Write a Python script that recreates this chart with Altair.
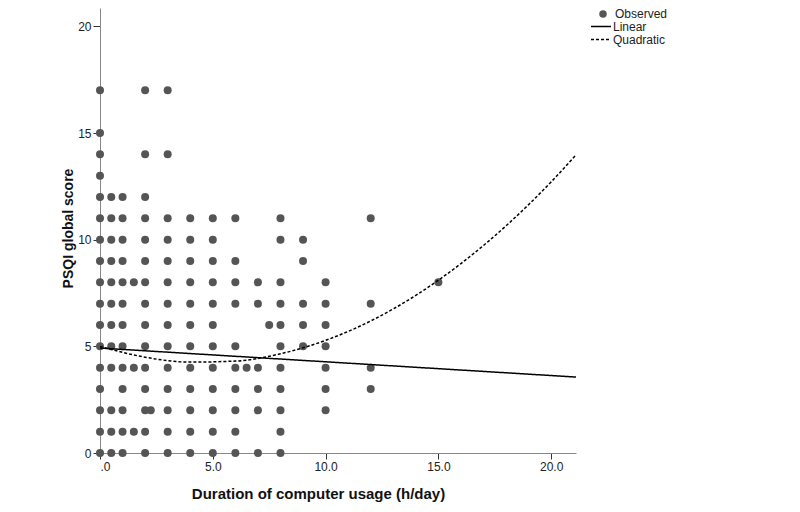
import altair as alt
import pandas as pd

# Observed points: PSQI score -> list of computer usage durations (h/day)
scores = [17, 15, 14, 13, 12, 11, 10, 9, 8, 7, 6, 5, 4, 3, 2, 1, 0]
hours_per_score = [
    [0, 2, 3],
    [0],
    [0, 2, 3],
    [0],
    [0, 0.5, 1, 2],
    [0, 0.5, 1, 2, 3, 4, 5, 6, 8, 12],
    [0, 0.5, 1, 2, 3, 4, 5, 8, 9],
    [0, 0.5, 1, 2, 3, 4, 5, 6, 9],
    [0, 0.5, 1, 1.5, 2, 3, 4, 5, 6, 7, 8, 10, 15],
    [0, 0.5, 1, 2, 3, 4, 5, 6, 7, 8, 9, 10, 12],
    [0, 0.5, 1, 2, 3, 4, 5, 7.5, 8, 9, 10],
    [0, 0.5, 1, 2, 3, 4, 5, 6, 8, 9, 10],
    [0, 0.5, 1, 1.5, 2, 3, 4, 5, 6, 6.5, 7, 8, 10, 12],
    [0, 1, 2, 3, 4, 5, 6, 7, 8, 10, 12],
    [0, 0.5, 1, 2, 2.25, 3, 4, 5, 6, 7, 8, 10],
    [0, 0.5, 1, 1.5, 2, 3, 4, 5, 6, 8],
    [0, 0.5, 1, 2, 3, 4, 5, 6, 7, 8],
]

# Fitted lines
linear_x = [0, 21.1]
linear_y = [4.92, 3.56]
quad_x = [0, 2, 4, 6, 8, 10, 12, 14, 16, 18, 20, 21.1]
quad_y = [5.0, 4.49, 4.26, 4.31, 4.65, 5.28, 6.19, 7.39, 8.88, 10.65, 12.71, 13.97]

x_ticks = [0, 5, 10, 15, 20]
y_ticks = [0, 5, 10, 15, 20]

obs_rows = []
for s, hs in zip(scores, hours_per_score):
    for h in hs:
        obs_rows.append({"hours": h, "score": s, "series": "Observed"})
obs = pd.DataFrame(obs_rows)

line_rows = [{"hours": x, "score": y, "fit": "Linear"} for x, y in zip(linear_x, linear_y)]
line_rows += [{"hours": x, "score": y, "fit": "Quadratic"} for x, y in zip(quad_x, quad_y)]
fits = pd.DataFrame(line_rows)

xscale = alt.Scale(domain=[0, 21.1], nice=False, zero=False)
yscale = alt.Scale(domain=[0, 20.86], nice=False, zero=False)

xaxis = alt.Axis(
    values=x_ticks, title="Duration of computer usage (h/day)",
    labelExpr="datum.value == 0 ? '.0' : format(datum.value, '.1f')",
    grid=False, tickSize=6, labelPadding=2, titleFontSize=15,
    titleX=218, titleY=45, titleBaseline="alphabetic", titleAlign="center",
)
yaxis = alt.Axis(
    values=y_ticks, title="PSQI global score", grid=False, tickSize=7,
    labelPadding=2, titleX=-32, titleY=220, titleAlign="center",
    titleBaseline="middle", titleAngle=270, titleFontSize=14,
)

points = alt.Chart(obs).mark_circle(size=64, opacity=1).encode(
    x=alt.X("hours:Q", scale=xscale, axis=xaxis),
    y=alt.Y("score:Q", scale=yscale, axis=yaxis),
    color=alt.Color(
        "series:N",
        scale=alt.Scale(domain=["Observed"], range=["#555555"]),
        legend=alt.Legend(
            title=None, orient="none", legendX=497, legendY=0, padding=0,
            symbolSize=56, symbolType="circle", labelFontSize=12,
            labelColor="#222222", labelFont="Liberation Sans", labelOffset=6,
        ),
    ),
)

lines = alt.Chart(fits).mark_line(color="black", strokeWidth=1.5, interpolate="monotone").encode(
    x=alt.X("hours:Q", scale=xscale),
    y=alt.Y("score:Q", scale=yscale),
    detail="fit:N",
    strokeDash=alt.StrokeDash(
        "fit:N",
        scale=alt.Scale(domain=["Linear", "Quadratic"], range=[[1, 0], [3, 2]]),
        legend=alt.Legend(
            title=None, orient="none", legendX=490, legendY=13, padding=0,
            symbolType="stroke", symbolSize=400, symbolStrokeWidth=1.5,
            symbolStrokeColor="black", labelFontSize=12, labelColor="#222222",
            labelFont="Liberation Sans", labelOffset=1, rowPadding=0,
            clipHeight=11,
        ),
    ),
)

chart = alt.layer(points, lines).resolve_scale(color="independent").properties(
    width=476, height=445,
    autosize=alt.AutoSizeParams(type="none"),
    padding={"left": 92, "top": 0, "right": 130, "bottom": 51},
).configure_view(stroke=None).configure_axis(
    domainColor="#888888", tickColor="#333333", labelColor="#222222",
    labelFont="Liberation Sans", labelFontSize=12,
    titleFont="Liberation Sans", titleFontWeight="bold",
    titleColor="#111111",
)

chart.save("out.html", embed_options={"renderer": "svg", "actions": False})
